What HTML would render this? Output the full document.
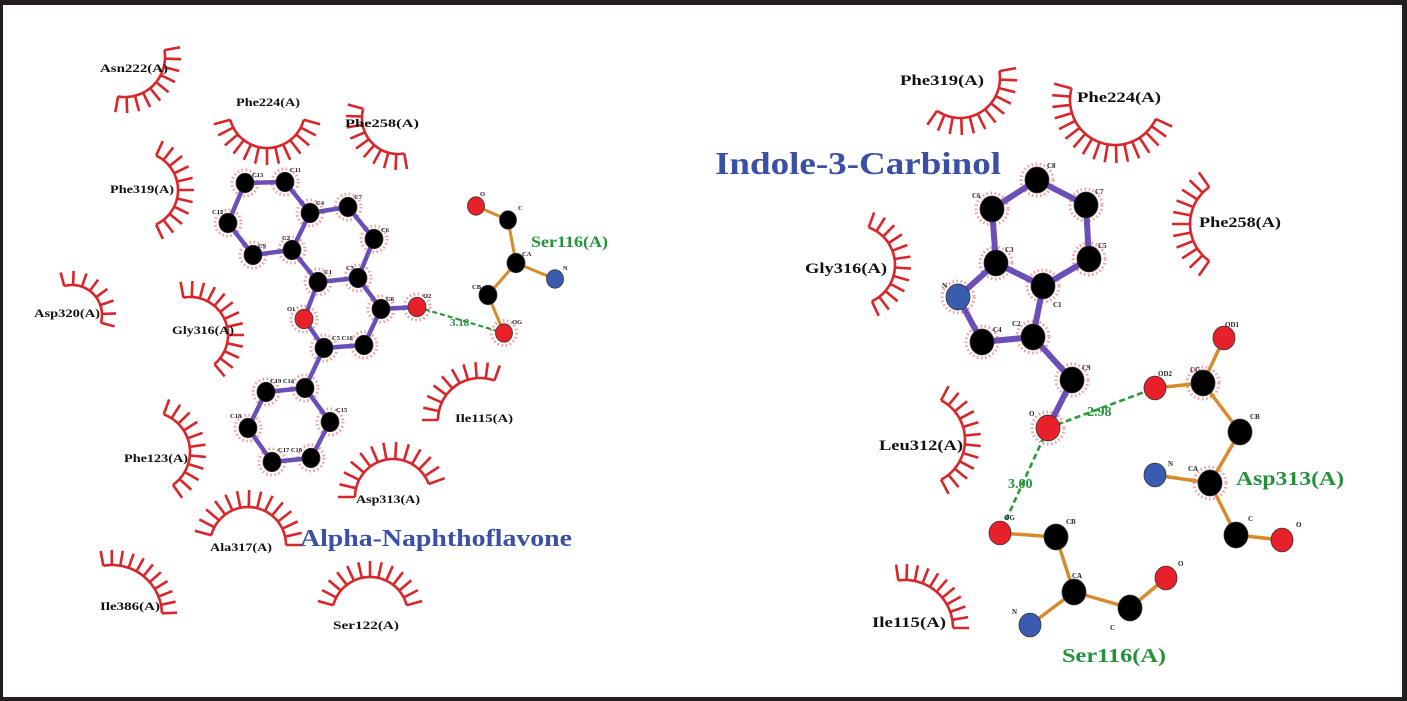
<!DOCTYPE html>
<html><head><meta charset="utf-8"><style>
html,body{margin:0;padding:0;background:#231f20;}
svg{display:block;}
text{font-family:"Liberation Serif",serif;font-weight:bold;}
</style></head><body>
<svg id="s" width="1407" height="701" viewBox="0 0 1407 701" xmlns="http://www.w3.org/2000/svg">
<rect x="0" y="0" width="1407" height="701" fill="#231f20"/>
<rect x="3" y="5" width="1399" height="692" fill="#ffffff"/>
<g id="arcs" stroke="#d8262a" stroke-width="2.6" fill="none" stroke-linecap="butt"></g>
<g id="halo" stroke="#f29a9a" stroke-width="1" fill="none" stroke-dasharray="1.5 2.6"></g>

<!-- left molecule bonds -->
<g stroke="#6b4fb8" stroke-width="4.5" stroke-linecap="round">
<line x1="245" y1="183" x2="285" y2="182"/><line x1="285" y1="182" x2="310" y2="213"/>
<line x1="245" y1="183" x2="228" y2="223"/><line x1="228" y1="223" x2="253" y2="255"/>
<line x1="253" y1="255" x2="292" y2="250"/><line x1="292" y1="250" x2="310" y2="213"/>
<line x1="310" y1="213" x2="348" y2="207"/><line x1="348" y1="207" x2="374" y2="239"/>
<line x1="374" y1="239" x2="358" y2="278"/><line x1="358" y1="278" x2="318" y2="282"/>
<line x1="318" y1="282" x2="292" y2="250"/><line x1="358" y1="278" x2="381" y2="309"/>
<line x1="381" y1="309" x2="417" y2="307"/><line x1="381" y1="309" x2="364" y2="345"/>
<line x1="364" y1="345" x2="324" y2="348"/><line x1="324" y1="348" x2="304" y2="319"/>
<line x1="304" y1="319" x2="318" y2="282"/><line x1="324" y1="348" x2="305" y2="388"/>
<line x1="305" y1="388" x2="266" y2="392"/><line x1="266" y1="392" x2="248" y2="428"/>
<line x1="248" y1="428" x2="272" y2="462"/><line x1="272" y1="462" x2="311" y2="458"/>
<line x1="311" y1="458" x2="330" y2="422"/><line x1="330" y1="422" x2="305" y2="388"/>
</g>
<g stroke="#d98a2a" stroke-width="3" stroke-linecap="round">
<line x1="476" y1="206" x2="508" y2="220"/><line x1="508" y1="220" x2="516" y2="263"/>
<line x1="516" y1="263" x2="555" y2="279"/><line x1="516" y1="263" x2="488" y2="295"/>
<line x1="488" y1="295" x2="504" y2="333"/>
</g>
<line x1="417" y1="307" x2="504" y2="333" stroke="#2a9a3a" stroke-width="2.2" stroke-dasharray="5 3"/>

<!-- right molecule bonds -->
<g stroke="#6b4fb8" stroke-width="6" stroke-linecap="round">
<line x1="1037" y1="180" x2="992" y2="209"/><line x1="1037" y1="180" x2="1086" y2="205"/>
<line x1="1086" y1="205" x2="1089" y2="259"/><line x1="1089" y1="259" x2="1043" y2="286"/>
<line x1="992" y1="209" x2="996" y2="263"/><line x1="996" y1="263" x2="1043" y2="286"/>
<line x1="996" y1="263" x2="958" y2="297"/><line x1="958" y1="297" x2="982" y2="342"/>
<line x1="982" y1="342" x2="1033" y2="337"/><line x1="1033" y1="337" x2="1043" y2="286"/>
<line x1="1033" y1="337" x2="1072" y2="380"/><line x1="1072" y1="380" x2="1048" y2="428"/>
</g>
<g stroke="#d98a2a" stroke-width="3.5" stroke-linecap="round">
<line x1="1155" y1="388" x2="1203" y2="383"/><line x1="1203" y1="383" x2="1224" y2="338"/>
<line x1="1203" y1="383" x2="1240" y2="432"/><line x1="1240" y1="432" x2="1210" y2="483"/>
<line x1="1210" y1="483" x2="1155" y2="475"/><line x1="1210" y1="483" x2="1236" y2="535"/>
<line x1="1236" y1="535" x2="1282" y2="540"/>
<line x1="1000" y1="533" x2="1056" y2="537"/><line x1="1056" y1="537" x2="1074" y2="592"/>
<line x1="1074" y1="592" x2="1030" y2="625"/><line x1="1074" y1="592" x2="1130" y2="608"/>
<line x1="1130" y1="608" x2="1166" y2="578"/>
</g>
<g stroke="#2a9a3a" stroke-width="2.6" stroke-dasharray="6 3.5">
<line x1="1048" y1="428" x2="1155" y2="388"/><line x1="1048" y1="428" x2="1000" y2="533"/>
</g>

<g id="atoms" stroke="#333" stroke-width="0.8"></g>

<!-- left labels -->
<g font-size="12" fill="#111">
<text x="100" y="72" textLength="68" lengthAdjust="spacingAndGlyphs">Asn222(A)</text>
<text x="236" y="106" textLength="64" lengthAdjust="spacingAndGlyphs">Phe224(A)</text>
<text x="345" y="127" textLength="74" lengthAdjust="spacingAndGlyphs">Phe258(A)</text>
<text x="110" y="193" textLength="64" lengthAdjust="spacingAndGlyphs">Phe319(A)</text>
<text x="34" y="317" textLength="66" lengthAdjust="spacingAndGlyphs">Asp320(A)</text>
<text x="172" y="334" textLength="62" lengthAdjust="spacingAndGlyphs">Gly316(A)</text>
<text x="455" y="422" textLength="58" lengthAdjust="spacingAndGlyphs">Ile115(A)</text>
<text x="124" y="462" textLength="64" lengthAdjust="spacingAndGlyphs">Phe123(A)</text>
<text x="356" y="503" textLength="64" lengthAdjust="spacingAndGlyphs">Asp313(A)</text>
<text x="210" y="551" textLength="62" lengthAdjust="spacingAndGlyphs">Ala317(A)</text>
<text x="100" y="610" textLength="60" lengthAdjust="spacingAndGlyphs">Ile386(A)</text>
<text x="333" y="629" textLength="66" lengthAdjust="spacingAndGlyphs">Ser122(A)</text>
</g>
<text x="300" y="546" font-size="24" fill="#3a4fa6" textLength="272" lengthAdjust="spacingAndGlyphs">Alpha-Naphthoflavone</text>
<text x="531" y="247" font-size="16" fill="#22923a" textLength="77" lengthAdjust="spacingAndGlyphs">Ser116(A)</text>
<text x="450" y="326" font-size="11" fill="#22923a">3.18</text>
<g font-size="6.5" fill="#222">
<text x="252" y="177">C13</text><text x="290" y="172">C11</text><text x="212" y="214">C12</text>
<text x="258" y="248">C9</text><text x="282" y="240">C2</text><text x="316" y="205">C4</text>
<text x="354" y="199">C7</text><text x="381" y="232">C6</text><text x="346" y="270">C3</text>
<text x="324" y="274">C1</text><text x="386" y="301">C8</text><text x="423" y="298">O2</text>
<text x="287" y="311">O1</text><text x="332" y="340">C5 C10</text><text x="480" y="196">O</text>
<text x="518" y="210">C</text><text x="522" y="256">CA</text><text x="563" y="270">N</text>
<text x="472" y="289">CB</text><text x="512" y="324">OG</text>
<text x="270" y="383">C19 C14</text><text x="230" y="418">C18</text><text x="336" y="412">C15</text>
<text x="278" y="452">C17 C16</text>
</g>

<!-- right labels -->
<g font-size="15" fill="#111">
<text x="900" y="85" textLength="84" lengthAdjust="spacingAndGlyphs">Phe319(A)</text>
<text x="1077" y="102" textLength="84" lengthAdjust="spacingAndGlyphs">Phe224(A)</text>
<text x="1199" y="227" textLength="82" lengthAdjust="spacingAndGlyphs">Phe258(A)</text>
<text x="805" y="273" textLength="82" lengthAdjust="spacingAndGlyphs">Gly316(A)</text>
<text x="879" y="450" textLength="84" lengthAdjust="spacingAndGlyphs">Leu312(A)</text>
<text x="872" y="627" textLength="74" lengthAdjust="spacingAndGlyphs">Ile115(A)</text>
</g>
<text x="715" y="174" font-size="32" fill="#3a4fa6" textLength="286" lengthAdjust="spacingAndGlyphs">Indole-3-Carbinol</text>
<text x="1236" y="485" font-size="20" fill="#22923a" textLength="108" lengthAdjust="spacingAndGlyphs">Asp313(A)</text>
<text x="1062" y="662" font-size="20" fill="#22923a" textLength="104" lengthAdjust="spacingAndGlyphs">Ser116(A)</text>
<text x="1087" y="416" font-size="14" fill="#22923a">2.98</text>
<text x="1008" y="488" font-size="14" fill="#22923a">3.00</text>
<g font-size="7" fill="#222">
<text x="1047" y="168">C8</text><text x="972" y="198">C6</text><text x="1095" y="194">C7</text>
<text x="1098" y="248">C5</text><text x="1005" y="252">C3</text><text x="1053" y="307">C1</text>
<text x="942" y="288">N</text><text x="993" y="332">C4</text><text x="1012" y="326">C2</text>
<text x="1082" y="370">C9</text><text x="1029" y="416">O</text><text x="1225" y="327">OD1</text>
<text x="1158" y="376">OD2</text><text x="1190" y="372">CG</text><text x="1250" y="419">CB</text>
<text x="1168" y="466">N</text><text x="1188" y="471">CA</text><text x="1248" y="521">C</text>
<text x="1296" y="527">O</text><text x="1004" y="520">OG</text><text x="1066" y="524">CB</text>
<text x="1072" y="578">CA</text><text x="1012" y="614">N</text><text x="1110" y="630">C</text>
<text x="1178" y="566">O</text>
</g>
</svg>
<script>
var NS="http://www.w3.org/2000/svg";
function arc(cx,cy,r,a0,a1,L,n){
 var g=document.getElementById("arcs"),d="",p="";
 var R=Math.PI/180;
 for(var i=0;i<=40;i++){var a=(a0+(a1-a0)*i/40)*R;d+=(i?"L":"M")+(cx+r*Math.cos(a)).toFixed(1)+" "+(cy+r*Math.sin(a)).toFixed(1);}
 if(!n)n=Math.max(5,Math.round(r*(a1-a0)*R/8.5));
 L=L+2;
 for(var i=0;i<=n;i++){var a=(a0+(a1-a0)*i/n)*R,c=Math.cos(a),s=Math.sin(a);
  p+="M"+(cx+r*c).toFixed(1)+" "+(cy+r*s).toFixed(1)+"L"+(cx+(r+L)*c).toFixed(1)+" "+(cy+(r+L)*s).toFixed(1);}
 var e=document.createElementNS(NS,"path");e.setAttribute("d",d+p);g.appendChild(e);
}
// left
arc(125,57,40,-10,100,14);
arc(267,110,38,15,165,15);
arc(398,118,36,80,195,14);
arc(140,190,38,-65,65,14);
arc(72,315,30,255,375,12);
arc(190,335,38,-100,50,14);
arc(480,420,42,180,290,14);
arc(150,452,40,-70,55,14);
arc(393,497,38,180,340,15);
arc(248,545,38,195,360,15);
arc(112,615,50,-100,-2,13);
arc(370,615,38,195,345,14);
// right
arc(960,78,40,-10,125,15);
arc(1115,100,45,25,195,16);
arc(1235,224,45,125,235,16);
arc(855,265,40,-70,65,14);
arc(920,440,45,-62,62,14);
arc(905,628,48,262,360,14);
// atoms
var A=[
[245,183,9,"k"],[285,182,9,"k"],[228,223,9,"k"],[253,255,9,"k"],[292,250,9,"k"],[310,213,9,"k"],
[348,207,9,"k"],[374,239,9,"k"],[358,278,9,"k"],[318,282,9,"k"],[381,309,9,"k"],[417,307,9,"r"],
[304,319,9,"r"],[324,348,9,"k"],[364,345,9,"k"],[305,388,9,"k"],[266,392,9,"k"],[248,428,9,"k"],
[330,422,9,"k"],[311,458,9,"k"],[272,462,9,"k"],
[476,206,8.5,"r"],[508,220,8.5,"k"],[516,263,9,"k"],[555,279,8.5,"b"],[488,295,9,"k"],[504,333,8.5,"r"],
[1037,180,12,"k"],[992,209,12,"k"],[1086,205,12,"k"],[1089,259,12,"k"],[996,263,12,"k"],[1043,286,12,"k"],
[958,297,12,"b"],[982,342,12,"k"],[1033,337,12,"k"],[1072,380,12,"k"],[1048,428,12,"r"],
[1155,388,11,"r"],[1203,383,12,"k"],[1224,338,11,"r"],[1240,432,12,"k"],[1210,483,12,"k"],[1155,475,11,"b"],
[1236,535,12,"k"],[1282,540,11,"r"],
[1000,533,11,"r"],[1056,537,12,"k"],[1074,592,12,"k"],[1030,625,11,"b"],[1130,608,12,"k"],[1166,578,11,"r"]];
var col={k:"#000",r:"#e8202a",b:"#3a5cb0"};
var G=document.getElementById("atoms"),H=document.getElementById("halo");
var noHalo={"555,279":1,"476,206":1,"508,220":1,"516,263":1,"488,295":1,"1224,338":1,"1240,432":1,"1155,475":1,"1236,535":1,"1282,540":1,"1056,537":1,"1074,592":1,"1030,625":1,"1130,608":1,"1166,578":1,"1000,533":1,"1155,388":1};
A.forEach(function(a){
 var e=document.createElementNS(NS,"ellipse");
 e.setAttribute("cx",a[0]);e.setAttribute("cy",a[1]);e.setAttribute("rx",a[2]);e.setAttribute("ry",a[2]*1.08);
 e.setAttribute("fill",col[a[3]]);G.appendChild(e);
 if(!noHalo[a[0]+","+a[1]]){var h=document.createElementNS(NS,"circle");
  h.setAttribute("cx",a[0]);h.setAttribute("cy",a[1]);h.setAttribute("r",a[2]+4);
  h.setAttribute("stroke-width","3");H.appendChild(h);}
});
</script>
</body></html>
